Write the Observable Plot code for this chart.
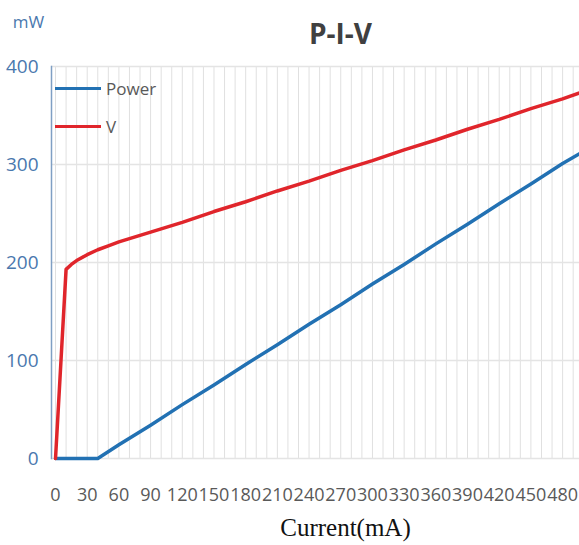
<!DOCTYPE html>
<html>
<head>
<meta charset="utf-8">
<script src="https://cdn.jsdelivr.net/npm/d3@7"></script>
<script src="https://cdn.jsdelivr.net/npm/@observablehq/plot@0.6"></script>
<style>
  html, body { margin: 0; padding: 0; background: #fff; }
  #wrap { position: relative; width: 579px; height: 545px; font-family: "Open Sans", sans-serif; }
  .leg { position: absolute; left: 55px; display: flex; align-items: center; font-size: 17px; color: #595959; }
  .leg span.sw { display: inline-block; width: 46px; height: 3.5px; margin-right: 5px; }
</style>
</head>
<body>
<div id="wrap"></div>
<script>
const titleText = "P-I-V";
const yUnit = "mW";
const xLabel = "Current(mA)";
const seriesNames = ["Power", "V"];
const seriesColors = ["#2271b3", "#e0252b"];

const powerCurrent = [0, 40, 60, 90, 120, 150, 180, 210, 240, 270, 300, 330, 360, 390, 420, 450, 480, 496];
const powerValues  = [0, 0, 14, 34, 55, 75, 96, 116, 137, 157, 178, 198, 219, 239, 260, 280, 301, 311];

const vCurrent = [0, 10, 15, 20, 30, 40, 50, 60, 90, 120, 150, 180, 210, 240, 270, 300, 330, 360, 390, 420, 450, 480, 496];
const vValues  = [0, 193, 198, 202, 208, 213, 217, 221, 231, 241, 252, 262, 273, 283, 294, 304, 315, 325, 336, 346, 357, 367, 373];

const xTicks = [0, 30, 60, 90, 120, 150, 180, 210, 240, 270, 300, 330, 360, 390, 420, 450, 480];
const xGrid = d3.range(0, 500, 10);
const yTicks = [0, 100, 200, 300, 400];

const power = powerCurrent.map((c, i) => ({current: c, value: powerValues[i]}));
const volt = vCurrent.map((c, i) => ({current: c, value: vValues[i]}));

const chart = Plot.plot({
  width: 579,
  height: 545,
  marginLeft: 51,
  marginRight: 0,
  marginTop: 66,
  marginBottom: 87,
  style: {fontFamily: "'Open Sans', sans-serif", background: "#fff"},
  x: {domain: [-3.8, 496]},
  y: {domain: [0, 400]},
  marks: [
    Plot.ruleX(xGrid, {stroke: "#e0e0e0", strokeWidth: 1}),
    Plot.ruleY(yTicks, {stroke: "#e4e4e4", strokeWidth: 1.5}),
    Plot.frame({anchor: "left", stroke: "#7f9fc4", strokeWidth: 1.5}),
    Plot.axisX(xTicks, {tickSize: 0, tickPadding: 30, fontSize: 18, fill: "#595959", label: null}),
    Plot.axisY(yTicks, {tickSize: 0, tickPadding: 13, fontSize: 19, fill: "#4a78ae", label: null}),
    Plot.line(power, {x: "current", y: "value", stroke: seriesColors[0], strokeWidth: 3.5}),
    Plot.line(volt, {x: "current", y: "value", stroke: seriesColors[1], strokeWidth: 3.5}),
    Plot.text([titleText], {frameAnchor: "top", dx: 25, dy: -31, fontSize: 28, fontWeight: "bold", fill: "#404040", lineAnchor: "middle"}),
    Plot.text([yUnit], {frameAnchor: "top-left", dx: -23, dy: -44, fontSize: 17, fill: "#4a78ae", textAnchor: "middle", lineAnchor: "middle"}),
    Plot.text([xLabel], {frameAnchor: "bottom", dx: 30, dy: 69, fontSize: 25, fill: "#111", fontFamily: "'Liberation Serif', serif", lineAnchor: "middle"})
  ]
});
const wrap = document.getElementById("wrap");
wrap.appendChild(chart);

seriesNames.forEach((name, i) => {
  const d = document.createElement("div");
  d.className = "leg";
  d.style.top = (i === 0 ? 77 : 115) + "px";
  d.innerHTML = `<span class="sw" style="background:${seriesColors[i]}"></span><span>${name}</span>`;
  wrap.appendChild(d);
});
</script>
</body>
</html>
